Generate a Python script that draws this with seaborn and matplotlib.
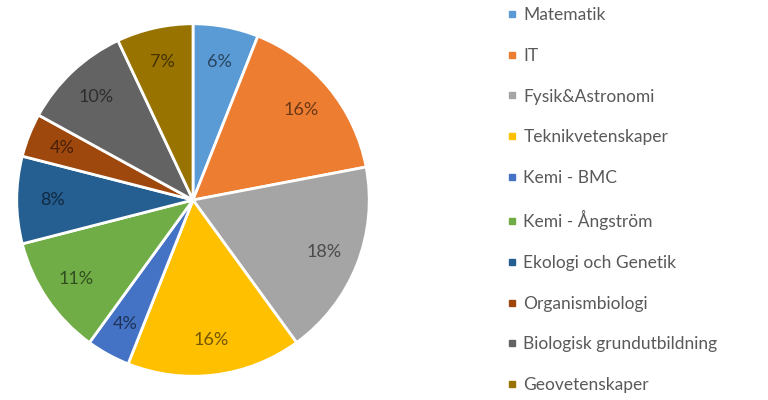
import matplotlib
matplotlib.use("Agg")
import matplotlib.pyplot as plt
from matplotlib.lines import Line2D
import seaborn as sns

# Data
institutioner = ["Matematik", "IT", "Fysik&Astronomi", "Teknikvetenskaper", "Kemi - BMC",
                 "Kemi - Ångström", "Ekologi och Genetik", "Organismbiologi",
                 "Biologisk grundutbildning", "Geovetenskaper"]
andelar = [6, 16, 18, 16, 4, 11, 8, 4, 10, 7]
farger = ["#5B9BD5", "#ED7D31", "#A5A5A5", "#FFC000", "#4472C4",
          "#70AD47", "#255E91", "#9E480E", "#636363", "#997300"]

sns.set_style("white")
plt.rcParams['font.family'] = ['Lato', 'DejaVu Sans']

palett = sns.color_palette(farger)
# morkare text i varje bit (som i Excel)
textfarger = [tuple(c * 0.45 for c in col) for col in palett]

fig = plt.figure(figsize=(7.68, 4.0), dpi=100)
ax = fig.add_axes([15 / 768, 22 / 400, 356 / 768, 356 / 400])

wedges, texter, autotexter = ax.pie(
    andelar, colors=palett, startangle=90, counterclock=False,
    autopct='%1.0f%%', pctdistance=0.8,
    wedgeprops=dict(edgecolor='white', linewidth=2),
    textprops=dict(fontsize=13))
for t, c in zip(autotexter, textfarger):
    t.set_color(c)
ax.set_xlim(-1.01, 1.01)
ax.set_ylim(-1.01, 1.01)
ax.set_aspect('equal')

handtag = [Line2D([0], [0], marker='s', linestyle='none', markersize=5,
                  markerfacecolor=c, markeredgecolor=c) for c in palett]
fig.legend(handtag, institutioner, loc='upper left', bbox_to_anchor=(507 / 768, 0.982),
           frameon=False, fontsize=12.5, labelspacing=1.42, handlelength=0.6,
           handletextpad=0.35, borderpad=0, borderaxespad=0, labelcolor='#595959')

fig.savefig("out.png", dpi=100)
